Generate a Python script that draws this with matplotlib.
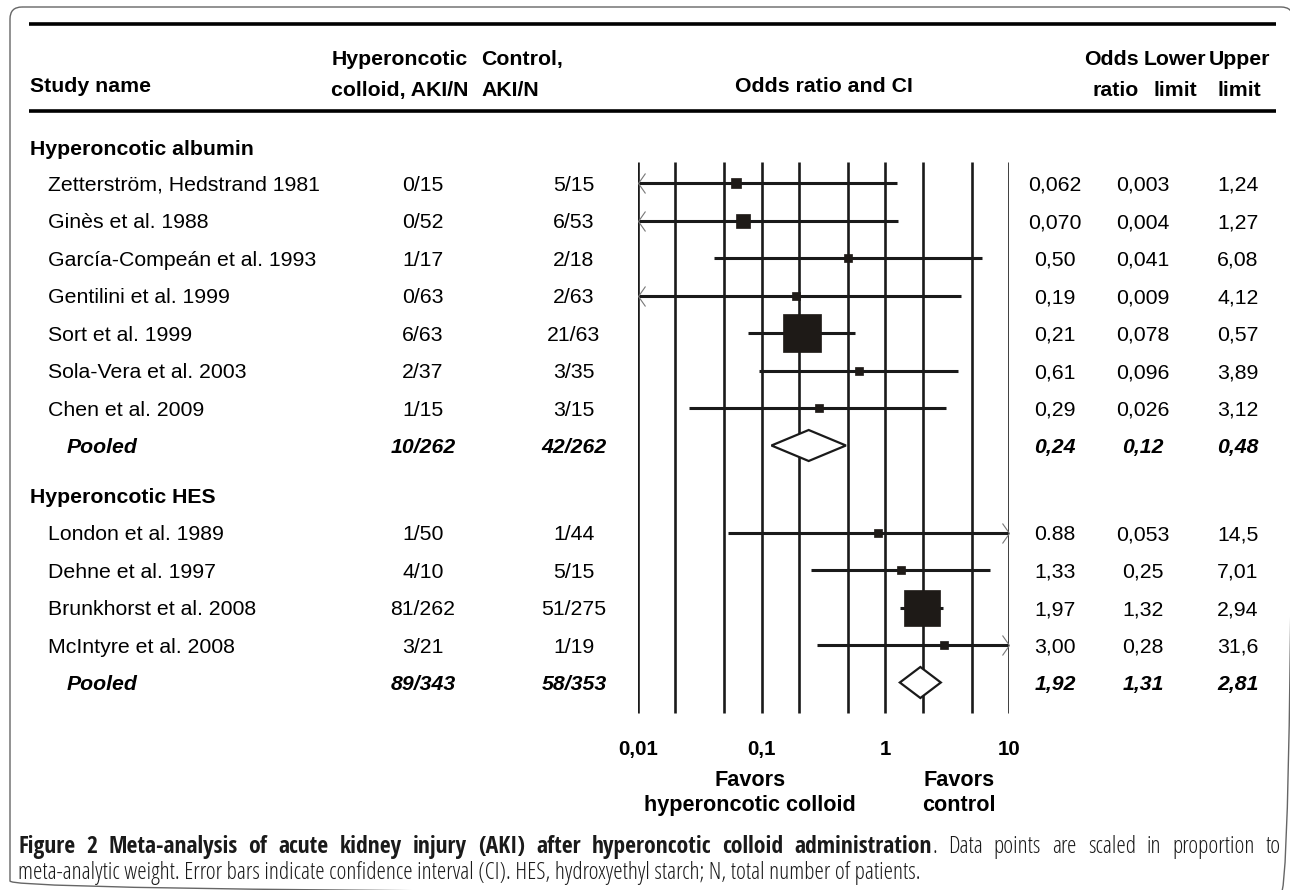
import matplotlib
matplotlib.use("Agg")
import matplotlib.pyplot as plt
from matplotlib import font_manager
from matplotlib.patches import Polygon, FancyBboxPatch
from matplotlib.path import Path

# ---------------- data ----------------
group_names = ["Hyperoncotic albumin", "Hyperoncotic HES"]
study_names = ["Zetterström, Hedstrand 1981", "Ginès et al. 1988",
               "García-Compeán et al. 1993", "Gentilini et al. 1999",
               "Sort et al. 1999", "Sola-Vera et al. 2003", "Chen et al. 2009",
               "London et al. 1989", "Dehne et al. 1997",
               "Brunkhorst et al. 2008", "McIntyre et al. 2008"]
study_group = [0, 0, 0, 0, 0, 0, 0, 1, 1, 1, 1]
colloid_aki = ["0/15", "0/52", "1/17", "0/63", "6/63", "2/37", "1/15",
               "1/50", "4/10", "81/262", "3/21"]
control_aki = ["5/15", "6/53", "2/18", "2/63", "21/63", "3/35", "3/15",
               "1/44", "5/15", "51/275", "1/19"]
odds_ratio = [0.062, 0.070, 0.50, 0.19, 0.21, 0.61, 0.29, 0.88, 1.33, 1.97, 3.00]
lower_limit = [0.003, 0.004, 0.041, 0.009, 0.078, 0.096, 0.026, 0.053, 0.25, 1.32, 0.28]
upper_limit = [1.24, 1.27, 6.08, 4.12, 0.57, 3.89, 3.12, 14.5, 7.01, 2.94, 31.6]
odds_ratio_txt = ["0,062", "0,070", "0,50", "0,19", "0,21", "0,61", "0,29",
                  "0.88", "1,33", "1,97", "3,00"]
lower_txt = ["0,003", "0,004", "0,041", "0,009", "0,078", "0,096", "0,026",
             "0,053", "0,25", "1,32", "0,28"]
upper_txt = ["1,24", "1,27", "6,08", "4,12", "0,57", "3,89", "3,12",
             "14,5", "7,01", "2,94", "31,6"]
rel_weight = [3.6, 5.1, 1.5, 1.9, 41.0, 1.9, 1.9, 1.5, 1.5, 38.8, 1.5]

pooled_colloid = ["10/262", "89/343"]
pooled_control = ["42/262", "58/353"]
pooled_or = [0.24, 1.92]
pooled_lower = [0.12, 1.31]
pooled_upper = [0.48, 2.81]
pooled_or_txt = ["0,24", "1,92"]
pooled_lower_txt = ["0,12", "1,31"]
pooled_upper_txt = ["0,48", "2,81"]

grid_values = [0.01, 0.02, 0.05, 0.1, 0.2, 0.5, 1, 2, 5, 10]
tick_values = [0.01, 0.1, 1, 10]
tick_labels = ["0,01", "0,1", "1", "10"]

caption_bold = ("Figure 2 Meta-analysis of acute kidney injury (AKI) after "
                "hyperoncotic colloid administration")
caption_rest1 = ". Data points are scaled in proportion to"
caption_line2 = ("meta-analytic weight. Error bars indicate confidence interval (CI). "
                 "HES, hydroxyethyl starch; N, total number of patients.")

# ---------------- layout ----------------
W, H = 1290, 890
DPI = 100
plt.rcParams["font.family"] = ["Liberation Sans", "DejaVu Sans"]
FS = 15.3
INK = "#1a1a1a"

fig = plt.figure(figsize=(W / DPI, H / DPI), dpi=DPI)
ax = fig.add_axes([0, 0, 1, 1])
ax.set_xlim(0, W)
ax.set_ylim(H, 0)
ax.axis("off")

x_lo_px, x_hi_px = 638, 1009
axf = fig.add_axes([x_lo_px / W, 0, (x_hi_px - x_lo_px) / W, 1])
axf.set_xscale("log")
axf.set_xlim(0.01, 10)
axf.set_ylim(H, 0)
axf.axis("off")
axf.patch.set_alpha(0)

# frame
frame = FancyBboxPatch((10, 7), 1283, 886, boxstyle="round,pad=0,rounding_size=12",
                       fill=False, edgecolor="#666666", lw=1.0)
ax.add_patch(frame)

# rules
ax.hlines([24, 111], 29, 1276, color="black", lw=2.6)

def base(y):
    return y + 7.6

# headers
hdr = dict(fontsize=FS, fontweight="bold", color="black", va="baseline")
ax.text(30, base(84), "Study name", ha="left", **hdr)
ax.text(400, base(57), "Hyperoncotic", ha="center", **hdr)
ax.text(400, base(88), "colloid, AKI/N", ha="center", **hdr)
ax.text(481, base(57), "Control,", ha="left", **hdr)
ax.text(481, base(88), "AKI/N", ha="left", **hdr)
ax.text(823.5, base(84), "Odds ratio and CI", ha="center", **hdr)
ax.text(1139, base(57), "Odds", ha="right", **hdr)
ax.text(1139, base(88), "ratio", ha="right", **hdr)
ax.text(1175, base(57), "Lower", ha="center", **hdr)
ax.text(1175, base(88), "limit", ha="center", **hdr)
ax.text(1239, base(57), "Upper", ha="center", **hdr)
ax.text(1239, base(88), "limit", ha="center", **hdr)

# row positions
group_y = [147, 495]
first_row_y = [183, 532.5]
row_step = 37.5
col_x = [423, 574, 1055, 1143, 1238]

rows_y = []
counts = [0, 0]
for g in study_group:
    rows_y.append(first_row_y[g] + row_step * counts[g])
    counts[g] += 1
pooled_y = [first_row_y[g] + row_step * counts[g] for g in range(2)]

# grid lines
axf.vlines(grid_values, 162, 713, color=INK, lw=1.9, zorder=1)

reg = dict(fontsize=FS, color="black", va="baseline")
for g, name in enumerate(group_names):
    ax.text(30, base(group_y[g]), name, ha="left", fontweight="bold", **reg)

left_arrow = Path([(0.7, 1), (0, 0), (0.7, -1)], [Path.MOVETO, Path.LINETO, Path.LINETO])
right_arrow = Path([(-0.7, 1), (0, 0), (-0.7, -1)], [Path.MOVETO, Path.LINETO, Path.LINETO])
xmin, xmax = axf.get_xlim()
px2pt = 72.0 / DPI

for i, name in enumerate(study_names):
    y = rows_y[i]
    ax.text(48, base(y), name, ha="left", **reg)
    for cx, txt in zip(col_x, [colloid_aki[i], control_aki[i], odds_ratio_txt[i],
                               lower_txt[i], upper_txt[i]]):
        ax.text(cx, base(y), txt, ha="center", **reg)
    lo = max(lower_limit[i], xmin)
    hi = min(upper_limit[i], xmax)
    axf.hlines(y, lo, hi, color=INK, lw=2.2, zorder=2)
    if lower_limit[i] < xmin:
        axf.plot([xmin], [y], marker=left_arrow, ms=20 * px2pt, mfc="none",
                 mec="#777777", mew=0.8, zorder=3, clip_on=False)
    if upper_limit[i] > xmax:
        axf.plot([xmax], [y], marker=right_arrow, ms=20 * px2pt, mfc="none",
                 mec="#777777", mew=0.8, zorder=3, clip_on=False)
    side_px = 5.78 * rel_weight[i] ** 0.5
    axf.plot([odds_ratio[i]], [y], marker="s", ms=side_px * px2pt, mfc="#1e1a17",
             mec="#1e1a17", mew=0.5, zorder=4, clip_on=False)

bi = dict(fontsize=FS, color="black", va="baseline", fontweight="bold", style="italic")
for g in range(2):
    y = pooled_y[g]
    ax.text(67, base(y), "Pooled", ha="left", **bi)
    for cx, txt in zip(col_x, [pooled_colloid[g], pooled_control[g], pooled_or_txt[g],
                               pooled_lower_txt[g], pooled_upper_txt[g]]):
        ax.text(cx, base(y), txt, ha="center", **bi)
    half = 15.5
    dia = Polygon([(pooled_lower[g], y), (pooled_or[g], y - half),
                   (pooled_upper[g], y), (pooled_or[g], y + half)],
                  closed=True, facecolor="white", edgecolor=INK, lw=1.6, zorder=3)
    axf.add_patch(dia)

# ticks
for v, lab in zip(tick_values, tick_labels):
    axf.text(v, base(747), lab, ha="center", fontsize=FS - 0.5, fontweight="bold",
             va="baseline", color="black")
fav = dict(fontsize=FS + 0.3, fontweight="bold", va="baseline", ha="center", color="black")
ax.text(750, base(778), "Favors", **fav)
ax.text(750, base(803), "hyperoncotic colloid", **fav)
ax.text(959, base(778), "Favors", **fav)
ax.text(959, base(803), "control", **fav)

# caption
names = {(f.name, f.weight, f.stretch) for f in font_manager.fontManager.ttflist}
def has(name, weight=None, stretch=None):
    for n, w, s in names:
        if n == name and (weight is None or str(w) == str(weight)) and \
                (stretch is None or s == stretch):
            return True
    return False

if has("Open Sans Condensed", 700):
    bold_kw = dict(family="Open Sans Condensed", fontweight="bold")
elif has("IBM Plex Sans Condensed", 700):
    bold_kw = dict(family="IBM Plex Sans Condensed", fontweight="bold")
else:
    bold_kw = dict(family="DejaVu Sans", fontweight="bold", fontstretch="condensed")

if has("Open Sans", 300, "condensed"):
    reg_kw = dict(family="Open Sans", fontweight=300, fontstretch="condensed")
elif has("IBM Plex Sans Condensed", 300):
    reg_kw = dict(family="IBM Plex Sans Condensed", fontweight=300)
else:
    reg_kw = dict(family="DejaVu Sans", fontstretch="condensed")

cap_col = "#1a1a1a"
renderer = fig.canvas.get_renderer()
cap_left, cap_right = 18, 1281
base1, base2 = 853, 879

fs0 = 14.0
t2 = ax.text(cap_left, base2, caption_line2, fontsize=fs0, va="baseline",
             color=cap_col, **reg_kw)
w2 = t2.get_window_extent(renderer).width
fs_cap = fs0 * 905.0 / w2
t2.set_fontsize(fs_cap)

tokens = [(w, True) for w in caption_bold.split(" ")]
rest_words = caption_rest1.split(" ")
attach = rest_words[0]
tokens += [(w, False) for w in rest_words[1:]]
arts = []
for w, isb in tokens:
    kw = bold_kw if isb else reg_kw
    arts.append(ax.text(0, base1, w, fontsize=fs_cap, va="baseline", color=cap_col, **kw))
dot = ax.text(0, base1, attach, fontsize=fs_cap, va="baseline", color=cap_col, **reg_kw)
widths = [a.get_window_extent(renderer).width for a in arts]
wdot = dot.get_window_extent(renderer).width
n_bold = len(caption_bold.split(" "))
total = sum(widths) + wdot
gap = (cap_right - cap_left - total) / (len(arts) - 1)
x = cap_left
for k, (a, wdt) in enumerate(zip(arts, widths)):
    a.set_x(x)
    x += wdt
    if k == n_bold - 1:
        dot.set_x(x)
        x += wdot
    x += gap

fig.savefig("out.png", dpi=DPI)
